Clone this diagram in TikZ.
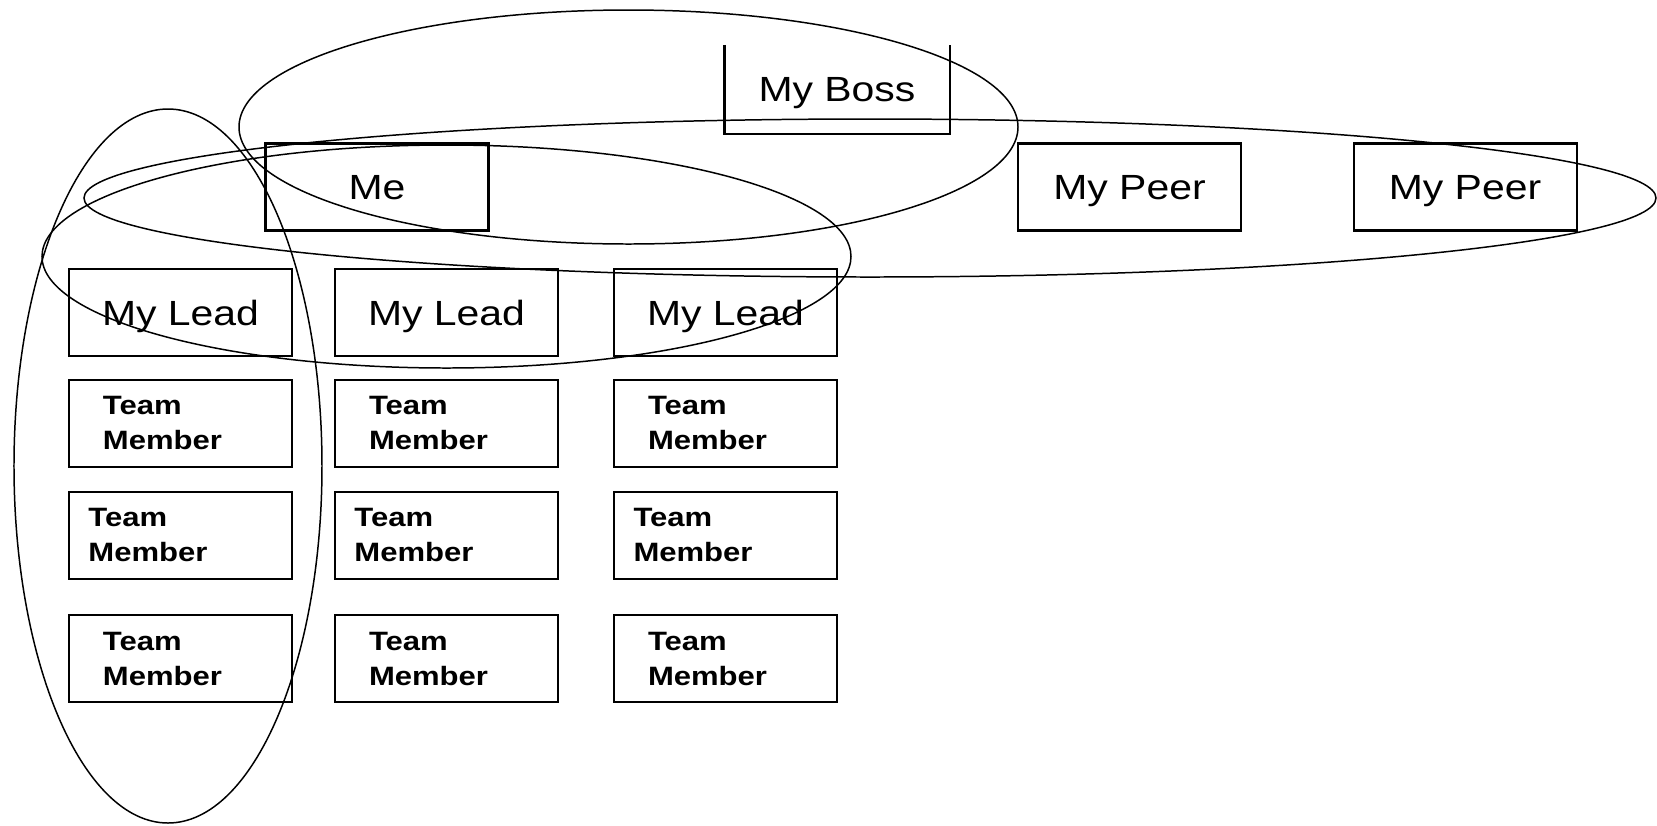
\documentclass[tikz,border=0pt]{standalone}
\usepackage{fontspec}
\newfontfamily\boxfont[FakeStretch=1.17]{Liberation Sans}

\tikzstyle{frame} = [rectangle, minimum width=4.46cm, minimum height=1.74cm, inner sep=0pt, text centered, draw=black, line width=1.15pt]
\tikzstyle{box} = [frame, text depth=0pt, font=\boxfont\fontsize{19.9pt}{24pt}\selectfont]
\tikzstyle{member} = [frame, align=left, text width=3.10cm, inner xsep=0.68cm, font=\boxfont\bfseries\fontsize{15.1pt}{19.9pt}\selectfont]
\tikzstyle{memberwide} = [member, text width=3.68cm, inner xsep=0.39cm]
\tikzstyle{ring} = [line width=0.85pt]

\begin{document}
\begin{tikzpicture}[node distance = 2.24cm, auto]
	\useasboundingbox (-7.54,3.74) rectangle (25.60,-12.76);
	% Place nodes
	\node [box] (Me) {Me};
	\node [box, draw=none, right of=Me, xshift=6.96cm, yshift=1.95cm] (MyBoss) {My Boss};
	\node [box, right of=Me, xshift=12.81cm] (MyPeerA) {My Peer};
	\node [box, right of=MyPeerA, xshift=4.47cm] (MyPeerB) {My Peer};
	\node [box, below of=Me, xshift=-3.93cm, yshift=-0.27cm] (MyLeadA) {My Lead};
	\node [box, right of=MyLeadA, xshift=3.08cm] (MyLeadB) {My Lead};
	\node [box, right of=MyLeadB, xshift=3.34cm] (MyLeadC) {My Lead};
	\node [member, below of=MyLeadA, yshift=0.03cm] (TeamMemberA1) {Team\\Member};
	\node [memberwide, below of=TeamMemberA1] (TeamMemberA2) {Team\\Member};
	\node [member, below of=TeamMemberA2, yshift=-0.23cm] (TeamMemberA3) {Team\\Member};
	\node [member, below of=MyLeadB, yshift=0.03cm] (TeamMemberB1) {Team\\Member};
	\node [memberwide, below of=TeamMemberB1] (TeamMemberB2) {Team\\Member};
	\node [member, below of=TeamMemberB2, yshift=-0.23cm] (TeamMemberB3) {Team\\Member};
	\node [member, below of=MyLeadC, yshift=0.03cm] (TeamMemberC1) {Team\\Member};
	\node [memberwide, below of=TeamMemberC1] (TeamMemberC2) {Team\\Member};
	\node [member, below of=TeamMemberC2, yshift=-0.23cm] (TeamMemberC3) {Team\\Member};
	% Boss box has no top edge
	\draw [line width=1.15pt] (MyBoss.north west) -- (MyBoss.south west) -- (MyBoss.south east) -- (MyBoss.north east);
	% Draw groups
	\draw [ring] (5.03,1.20) ellipse [x radius=7.79cm, y radius=2.34cm];
	\draw [ring] (9.86,-0.22) ellipse [x radius=15.72cm, y radius=1.58cm];
	\draw [ring] (1.39,-1.39) ellipse [x radius=8.09cm, y radius=2.23cm];
	\draw [ring] (-4.18,-5.58) ellipse [x radius=3.08cm, y radius=7.14cm];
\end{tikzpicture}
\end{document}
